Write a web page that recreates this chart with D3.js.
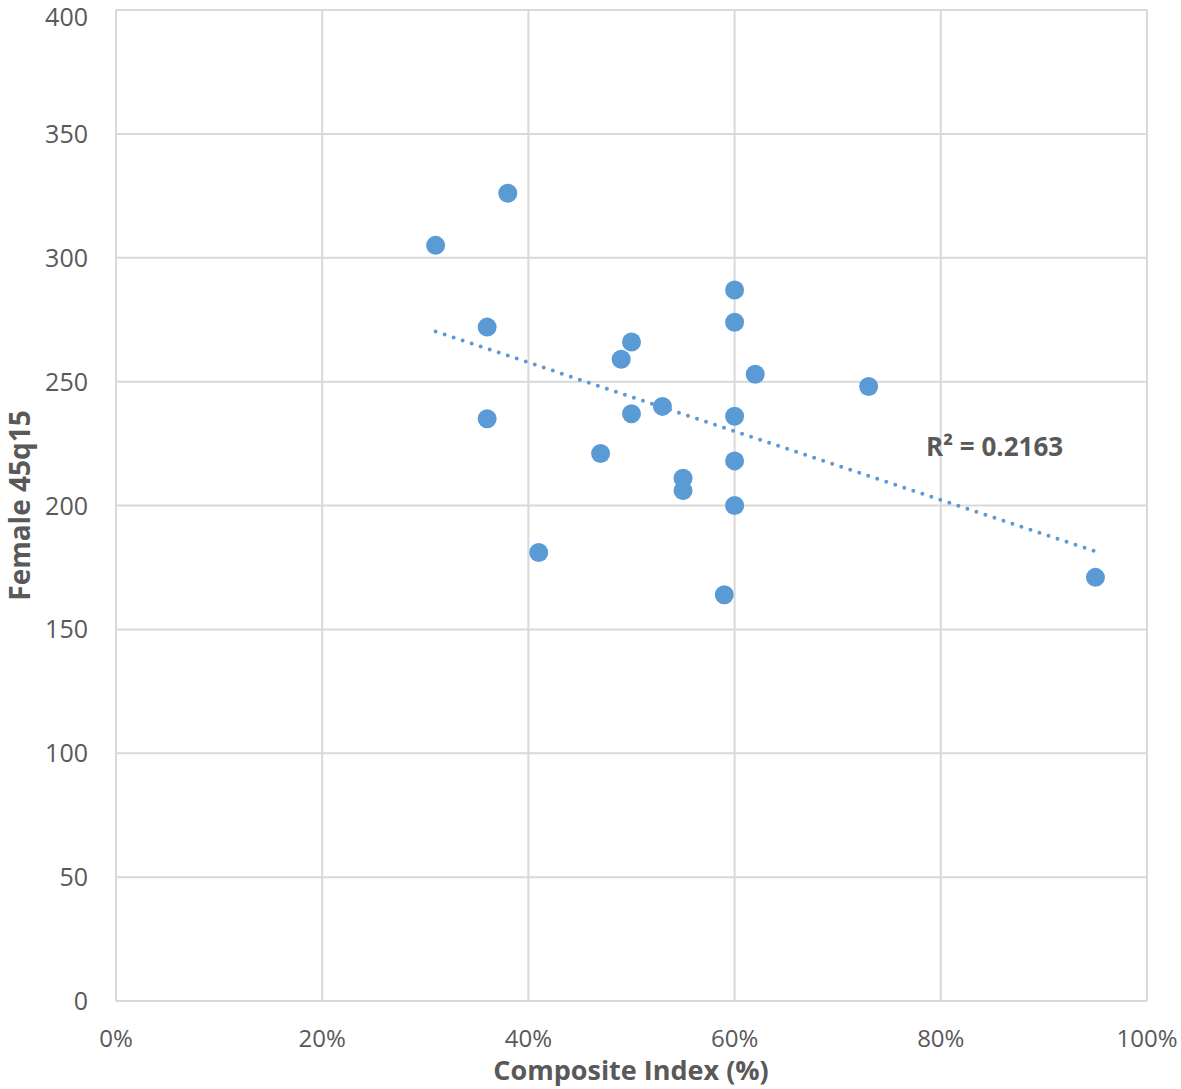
<!DOCTYPE html>
<html>
<head>
<meta charset="utf-8">
<script src="https://cdn.jsdelivr.net/npm/d3@7"></script>
<style>
  body { margin: 0; background: #fff; }
  svg text { font-family: "Open Sans", "Noto Sans", sans-serif; fill: #595959; }
</style>
</head>
<body>
<svg id="chart" width="1181" height="1089"></svg>
<script>
// composite index (fraction) and female 45q15 values
const compositeIndex = [0.31, 0.38, 0.36, 0.36, 0.41, 0.47, 0.49, 0.50, 0.50, 0.53, 0.55,
                        0.55, 0.59, 0.60, 0.60, 0.60, 0.60, 0.60, 0.62, 0.73, 0.95];
const female45q15    = [305, 326, 272, 235, 181, 221, 259, 266, 237, 240, 211,
                        206, 164, 287, 274, 236, 218, 200, 253, 248, 171];
const xTicks = [0, 0.2, 0.4, 0.6, 0.8, 1.0];
const yTicks = [0, 50, 100, 150, 200, 250, 300, 350, 400];
const r2Label = "R² = 0.2163";

const svg = d3.select('#chart');
const plot = { left: 116, right: 1147, top: 10, bottom: 1001 };

const x = d3.scaleLinear().domain([0, 1]).range([plot.left, plot.right]);
const y = d3.scaleLinear().domain([0, 400]).range([plot.bottom, plot.top]);

// gridlines
svg.append('g').selectAll('line')
  .data(yTicks)
  .join('line')
  .attr('x1', plot.left).attr('x2', plot.right)
  .attr('y1', d => y(d)).attr('y2', d => y(d))
  .attr('stroke', '#d9d9d9').attr('stroke-width', 2);

svg.append('g').selectAll('line')
  .data(xTicks)
  .join('line')
  .attr('x1', d => x(d)).attr('x2', d => x(d))
  .attr('y1', plot.top).attr('y2', plot.bottom)
  .attr('stroke', '#d9d9d9').attr('stroke-width', 2);

// tick labels (top one nudged down so it stays on the page)
svg.append('g').selectAll('text')
  .data(yTicks)
  .join('text')
  .attr('x', 88)
  .attr('y', d => Math.max(y(d), 17))
  .attr('dy', '0.36em')
  .attr('text-anchor', 'end')
  .style('font-size', '25px')
  .text(d => d);

svg.append('g').selectAll('text')
  .data(xTicks)
  .join('text')
  .attr('x', d => x(d))
  .attr('y', 1047)
  .attr('text-anchor', 'middle')
  .style('font-size', '24px')
  .text(d3.format('.0%'));

// axis titles
svg.append('text')
  .attr('x', 631)
  .attr('y', 1080)
  .attr('text-anchor', 'middle')
  .style('font-size', '27px').style('font-weight', 'bold')
  .text('Composite Index (%)');

svg.append('text')
  .attr('transform', `translate(30, ${(plot.top + plot.bottom) / 2}) rotate(-90)`)
  .attr('text-anchor', 'middle')
  .style('font-size', '28px').style('font-weight', 'bold')
  .text('Female 45q15');

// linear trend from the points
const n = compositeIndex.length;
const mx = d3.mean(compositeIndex), my = d3.mean(female45q15);
let sxy = 0, sxx = 0;
for (let i = 0; i < n; i++) {
  sxy += (compositeIndex[i] - mx) * (female45q15[i] - my);
  sxx += (compositeIndex[i] - mx) ** 2;
}
const slope = sxy / sxx, intercept = my - slope * mx;
const [xMin, xMax] = d3.extent(compositeIndex);

// points
svg.append('g').selectAll('circle')
  .data(compositeIndex)
  .join('circle')
  .attr('cx', d => x(d))
  .attr('cy', (d, i) => y(female45q15[i]))
  .attr('r', 9.5)
  .attr('fill', '#5b9bd5');

svg.append('line')
  .attr('x1', x(xMin)).attr('y1', y(intercept + slope * xMin))
  .attr('x2', x(xMax)).attr('y2', y(intercept + slope * xMax))
  .attr('stroke', '#5b9bd5').attr('stroke-width', 4)
  .attr('stroke-linecap', 'round')
  .attr('stroke-dasharray', '0 9.5');

svg.append('text')
  .attr('x', 926).attr('y', 456)
  .style('font-size', '26px').style('font-weight', 'bold')
  .text(r2Label);
</script>
</body>
</html>
